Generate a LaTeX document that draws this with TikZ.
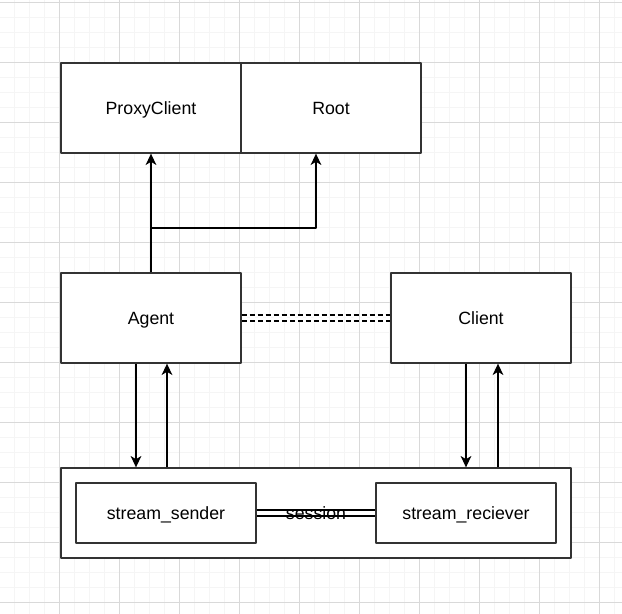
\documentclass[tikz,border=0pt]{standalone}
\usepackage{fontspec}
\setmainfont{Liberation Sans}
\usetikzlibrary{arrows.meta}
\begin{document}
\begin{tikzpicture}[x=0.75pt, y=-0.75pt, font=\fontsize{13.3}{15}\selectfont, line join=round, >={Stealth[length=8.5pt, width=8pt, inset=2.4pt]},
	box/.style={draw=black!80, line width=1pt, fill=white, minimum width=135pt, minimum height=67.5pt, inner sep=0pt, text height=9pt, text depth=0pt},
	small/.style={box, minimum height=45pt},
	link/.style={line width=1pt},
	twin/.style={double, double distance=3.5pt, line width=1pt}]
	\useasboundingbox (0,0) rectangle (622,614);
	% grid
	\foreach \x in {14,29,...,614} \draw[black!4] (\x,0) -- (\x,614);
	\foreach \y in {2,17,...,602} \draw[black!4] (0,\y) -- (622,\y);
	\foreach \x in {59,119,...,599} \draw[black!15] (\x,0) -- (\x,614);
	\foreach \y in {2,62,...,602} \draw[black!15] (0,\y) -- (622,\y);
	% boxes
	\node[box] (proxy) at (151,108) {ProxyClient};
	\node[box] (root) at (331,108) {Root};
	\node[box] (agent) at (151,318) {Agent};
	\node[box] (client) at (481,318) {Client};
	\node[box, minimum width=382.5pt] (stream) at (316,513) {};
	\node[small] (sender) at (166,513) {stream\_sender};
	\node[small] (reciever) at (466,513) {stream\_reciever};
	\coordinate (fork) at (151,228);
	% connectors
	\draw[link,->] (agent) -- (proxy);
	\draw[link,->] (fork) -| ([xshift=-11.25pt]root.south);
	\draw[link,->] ([xshift=-11.25pt]agent.south) -- ([xshift=-11.25pt]agent.south |- stream.north);
	\draw[link,->] ([xshift=12pt]agent.south |- stream.north) -- ([xshift=12pt]agent.south);
	\draw[link,->] ([xshift=-11.25pt]client.south) -- ([xshift=-11.25pt]client.south |- stream.north);
	\draw[link,->] ([xshift=12.75pt]client.south |- stream.north) -- ([xshift=12.75pt]client.south);
	\draw[twin, dash pattern=on 3.75pt off 2.25pt] (agent) -- (client);
	\draw[twin] (sender) -- (reciever) node[midway, text height=9pt, text depth=0pt] {session};
\end{tikzpicture}
\end{document}
